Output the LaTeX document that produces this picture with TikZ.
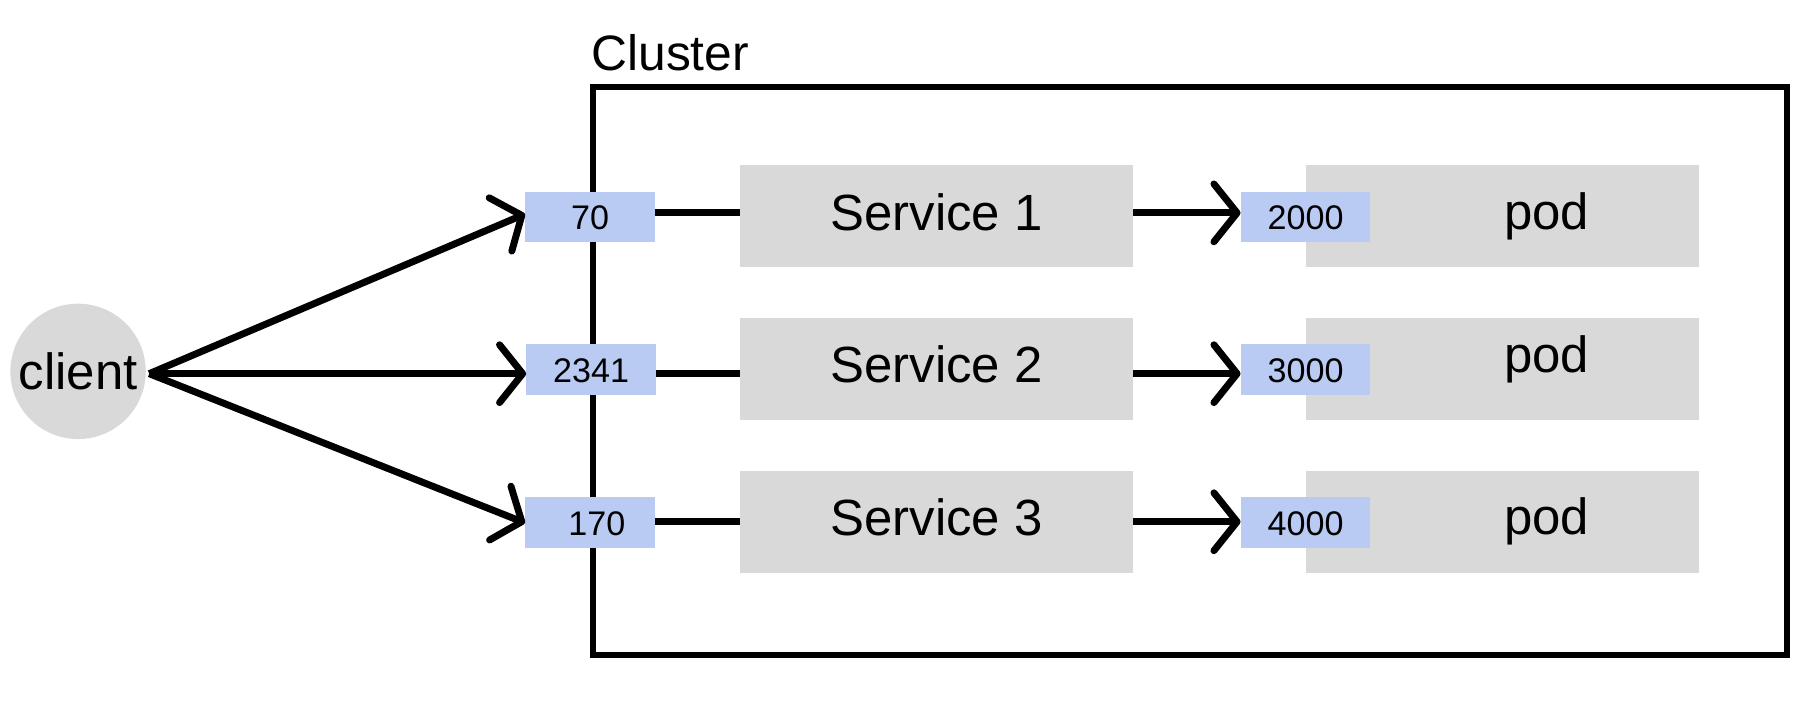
\documentclass[tikz,border=0pt]{standalone}
\usepackage{fontspec}
\setmainfont{Liberation Sans}
\usetikzlibrary{arrows.meta}
\definecolor{boxgray}{HTML}{D9D9D9}
\definecolor{portblue}{HTML}{B9CAF3}
\begin{document}
\begin{tikzpicture}[x=1pt,y=-1pt,
  big/.style={font=\fontsize{44}{50}\selectfont},
  num/.style={font=\fontsize{29.5}{32}\selectfont},
  svc/.style={big, fill=boxgray, inner sep=0pt, minimum width=340pt, minimum height=88pt, text height=32pt, text depth=8pt},
  podbox/.style={fill=boxgray, inner sep=0pt, minimum width=340pt, minimum height=88pt},
  port/.style={num, fill=portblue, inner sep=0pt, minimum width=112pt, minimum height=43.5pt, text height=24pt, text depth=2pt},
  conn/.style={line width=6pt},
  arr/.style={conn, -{Straight Barb[length=20pt,width=50pt,line cap=round,line join=round]}}]

\useasboundingbox (0,0) rectangle (1568,627.5);

% cluster
\node[draw, line width=4.8pt, minimum width=1032pt, minimum height=491pt, inner sep=0pt] (cluster) at (1028.5,320.5) {};
\node[anchor=base west, inner sep=0pt, font=\fontsize{43}{50}\selectfont] (clabel) at (511,61) {Cluster};

% client
\node[circle, fill=boxgray, minimum size=117pt, inner sep=0pt, big, text height=32pt, text depth=0pt] (client) at (67.5,321) {client};
\coordinate (fan) at (129,323);

% entry ports
\node[port] (p1) at (510,187.5) {70};
\node[port] (p2) at (511,319.5) {2341};
\node[port] (p3) at (510,451.5) {\hspace{12pt}170};

% services
\node[svc] (s1) at (809.5,187) {Service 1};
\node[svc] (s2) at (809.5,319) {Service 2};
\node[svc] (s3) at (809.5,451) {Service 3};

% pods
\node[podbox] (d1) at (1298.8,187) {};
\node[podbox] (d2) at (1298.8,319) {};
\node[podbox] (d3) at (1298.8,451) {};
\node[big, anchor=base, inner sep=0pt] (d1t) at (1337,198) {pod};
\node[big, anchor=base, inner sep=0pt] (d2t) at (1337,322) {pod};
\node[big, anchor=base, inner sep=0pt] (d3t) at (1337,462) {pod};

% target ports
\node[port] (t1) at (1128.5,187.5) {2000};
\node[port] (t2) at (1128.5,319.5) {3000};
\node[port] (t3) at (1128.5,451.5) {4000};

% connectors
\draw[arr] (fan) -- ([yshift=2.5pt]p1.west);
\draw[arr] (fan) -- ([yshift=-3.5pt]p2.west);
\draw[arr] (fan) -- ([yshift=-0.5pt]p3.west);

\draw[conn] ([yshift=3.5pt]p1.east) -- ([yshift=3pt]s1.west);
\draw[conn] ([yshift=-3.5pt]p2.east) -- ([yshift=-4pt]s2.west);
\draw[conn] ([yshift=0.5pt]p3.east) -- (s3.west);

\draw[arr] ([yshift=3pt]s1.east) -- ([yshift=3.5pt]t1.west);
\draw[arr] ([yshift=-4pt]s2.east) -- ([yshift=-3.5pt]t2.west);
\draw[arr] (s3.east) -- ([yshift=0.5pt]t3.west);
\end{tikzpicture}
\end{document}
